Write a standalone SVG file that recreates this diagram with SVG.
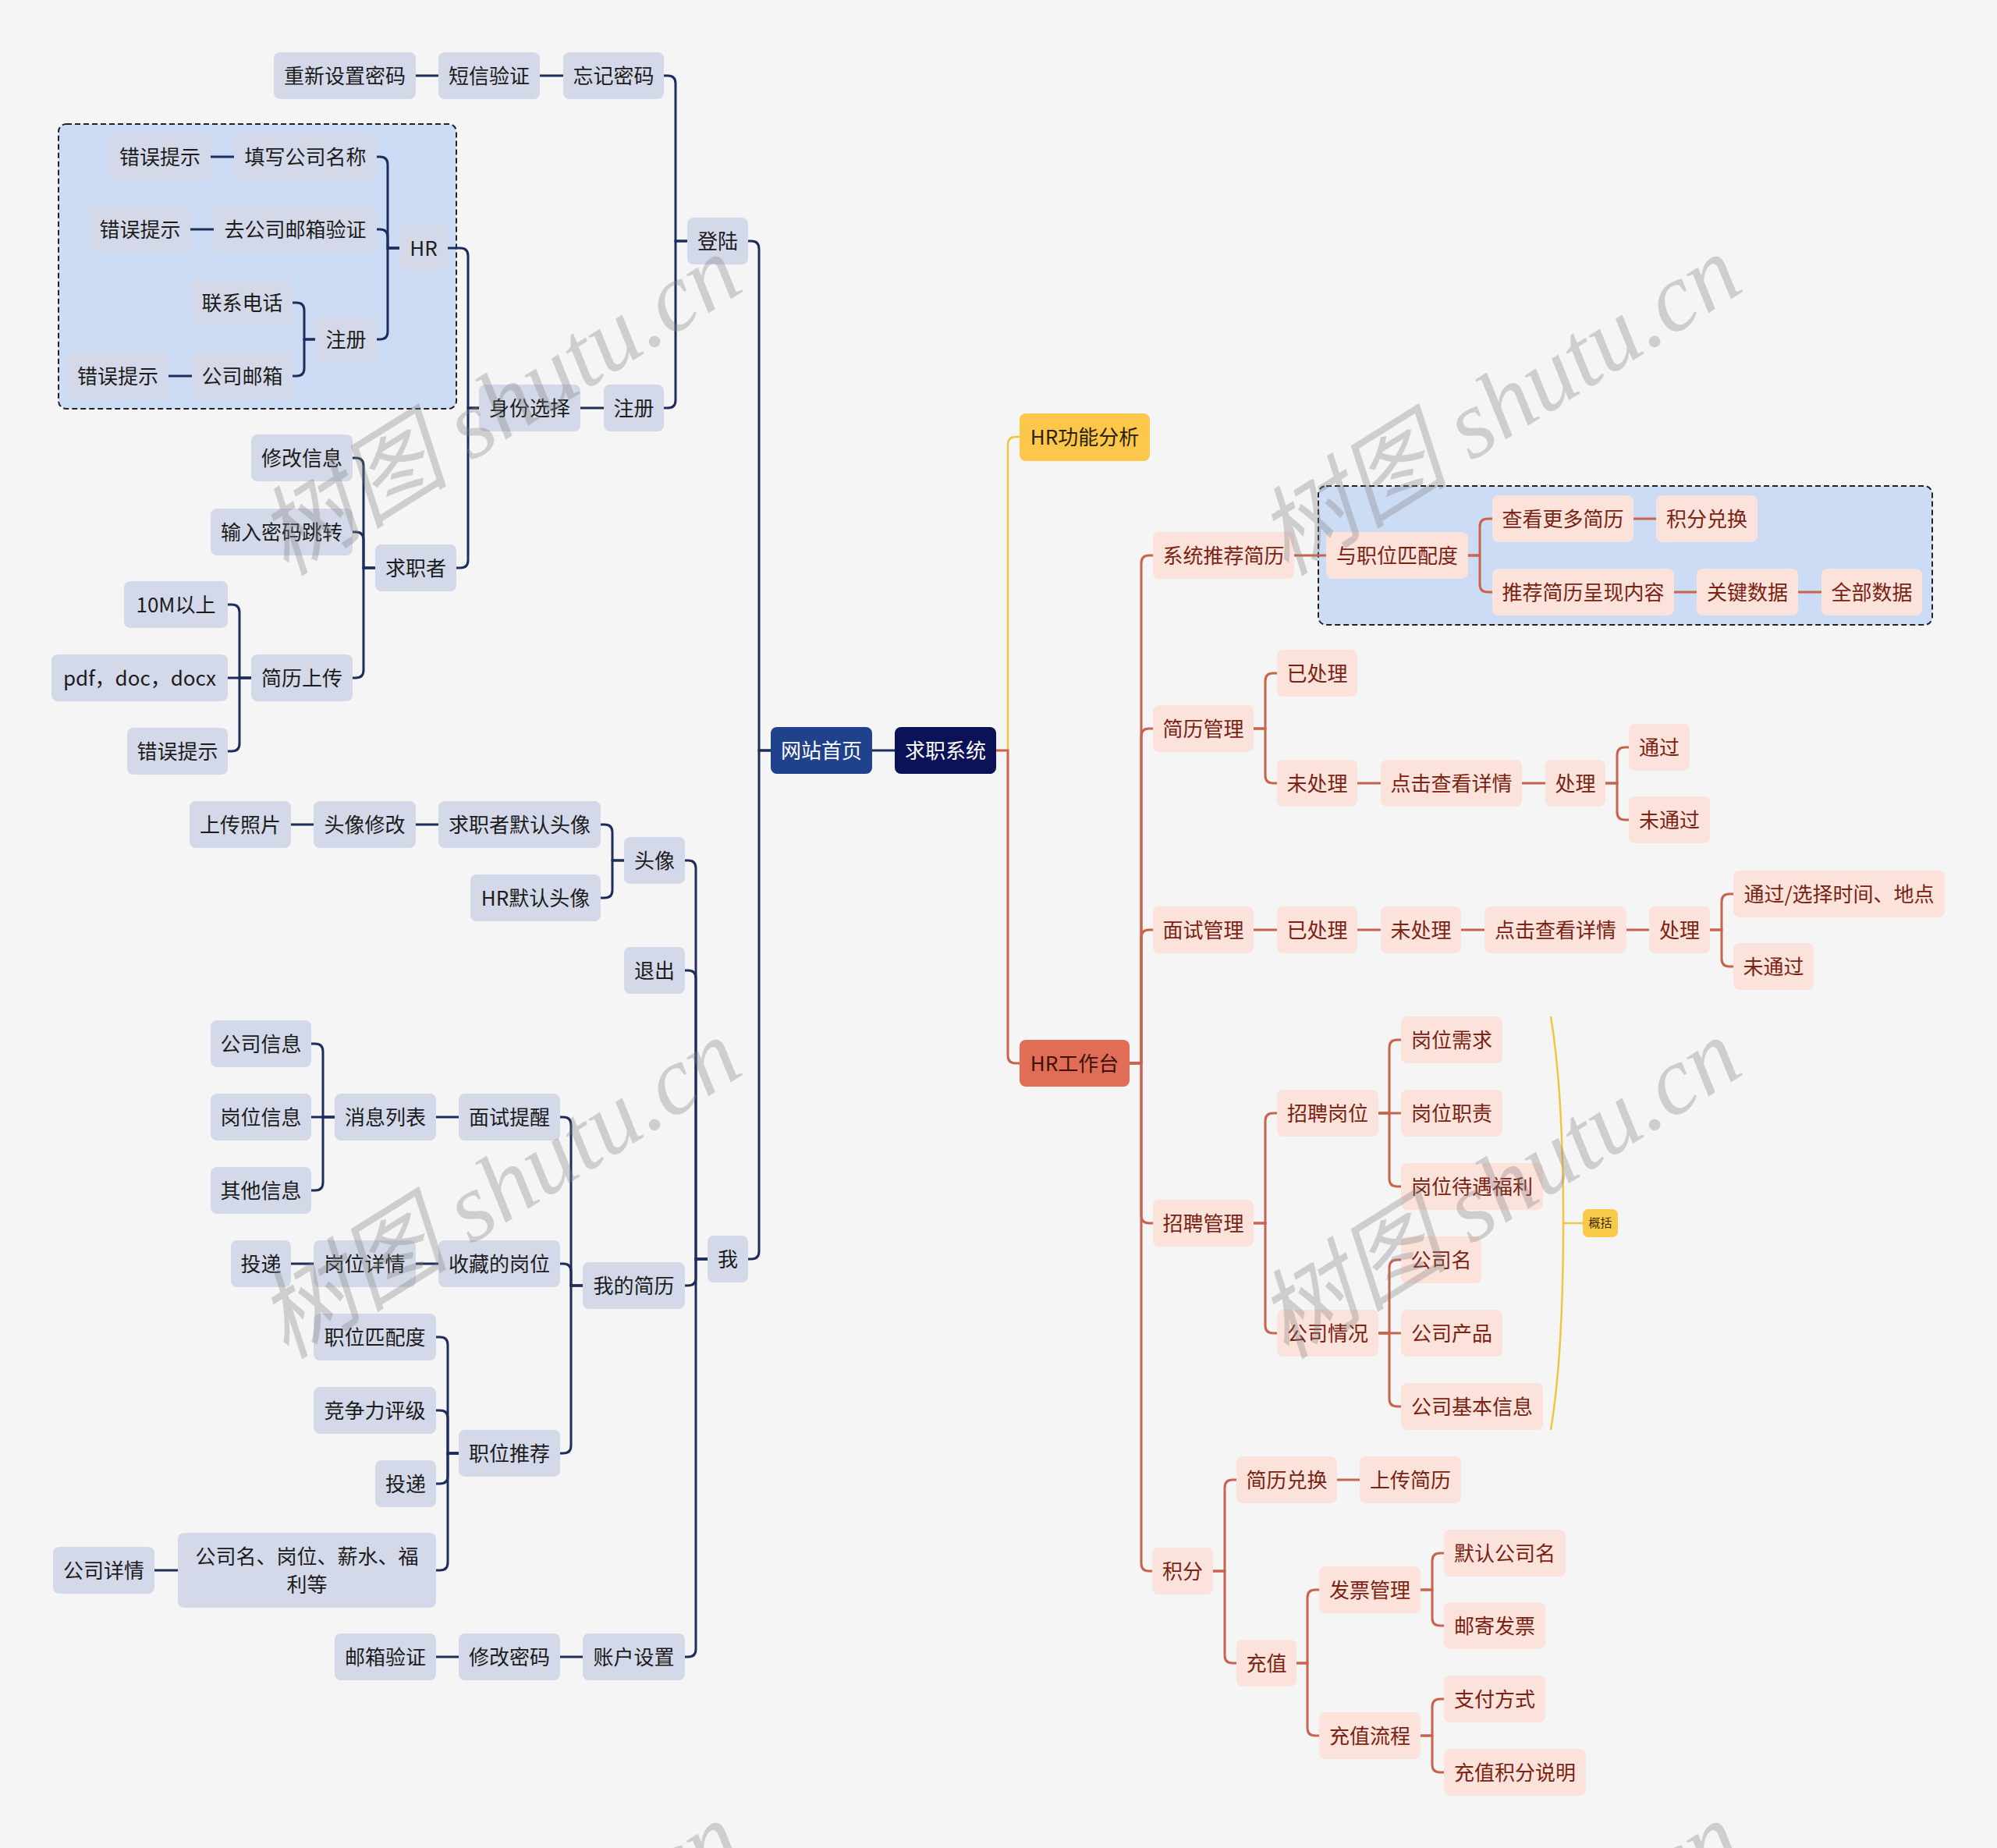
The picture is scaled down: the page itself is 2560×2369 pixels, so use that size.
<svg xmlns="http://www.w3.org/2000/svg" width="2560" height="2369" viewBox="0 0 2560 2369">
<style>
text{font-family:"Noto Sans CJK SC","Noto Sans",sans-serif;font-size:26px;text-anchor:middle;dominant-baseline:central}
g[id^="n_"] text{transform:translateY(-2px)}
.nb rect{fill:#d3d9e9}
.nb text{fill:#1c1c1c}
.np rect{fill:#fbe2da}
.np text{fill:#7a2313}
.cl path{fill:none;stroke:#1e2d5c;stroke-width:3}
.cr path{fill:none;stroke:#c9634e;stroke-width:3}
.cy path{fill:none;stroke:#f4c443;stroke-width:2.5}
.box{stroke:#222;stroke-width:2;stroke-dasharray:7 4}
.wm{font-family:"Liberation Serif","Noto Sans CJK SC",serif;font-style:italic;font-size:124px;fill:#808080;fill-opacity:.33}
</style>
<rect width="2560" height="2369" fill="#f5f5f5"/>
<rect class="box" x="75" y="159" width="510" height="365" rx="10" fill="#cddcf5"/>
<rect class="box" x="1690" y="623" width="787" height="178" rx="10" fill="#cddcf5"/>

<g id="connectors">
<g class="cl">
<path d="M988 962H973V319Q973 309 963 309H959"/>
<path d="M988 962H973V1604Q973 1614 963 1614H959"/>
<path d="M1147 962H1118"/>
<path d="M881 309H866V107Q866 97 856 97H851"/>
<path d="M881 309H866V513Q866 523 856 523H851"/>
<path d="M722 97H692M562 97H533"/>
<path d="M774 523H744"/>
<path d="M614 523H600V328Q600 318 590 318H574"/>
<path d="M614 523H600V718Q600 728 590 728H585"/>
<path d="M512 318H497V211Q497 201 487 201H483"/>
<path d="M512 318H497V304Q497 294 487 294H483"/>
<path d="M512 318H497V425Q497 435 487 435H483"/>
<path d="M300 201H270M274 294H244"/>
<path d="M404 435H390V398Q390 388 380 388H375"/>
<path d="M404 435H390V472Q390 482 380 482H375"/>
<path d="M246 482H216"/>
<path d="M481 728H466V597Q466 587 456 587H452"/>
<path d="M481 728H466V692Q466 682 456 682H452"/>
<path d="M481 728H466V859Q466 869 456 869H452"/>
<path d="M322 869H307V785Q307 775 297 775H292"/>
<path d="M322 869H292"/>
<path d="M322 869H307V953Q307 963 297 963H292"/>
<path d="M907 1614H892V1113Q892 1103 882 1103H878"/>
<path d="M907 1614H892V1254Q892 1244 882 1244H878"/>
<path d="M907 1614H892V1638Q892 1648 882 1648H878"/>
<path d="M907 1614H892V2114Q892 2124 882 2124H878"/>
<path d="M800 1103H785V1067Q785 1057 775 1057H770"/>
<path d="M800 1103H785V1141Q785 1151 775 1151H770"/>
<path d="M562 1057H533M402 1057H373"/>
<path d="M747 1648H732V1442Q732 1432 722 1432H718"/>
<path d="M747 1648H732V1630Q732 1620 722 1620H718"/>
<path d="M747 1648H732V1853Q732 1863 722 1863H718"/>
<path d="M588 1432H559"/>
<path d="M429 1432H414V1348Q414 1338 404 1338H399"/>
<path d="M429 1432H399"/>
<path d="M429 1432H414V1516Q414 1526 404 1526H399"/>
<path d="M562 1620H533M402 1620H373"/>
<path d="M588 1863H574V1724Q574 1714 564 1714H559"/>
<path d="M588 1863H574V1818Q574 1808 564 1808H559"/>
<path d="M588 1863H574V1892Q574 1902 564 1902H559"/>
<path d="M588 1863H574V2003Q574 2013 564 2013H559"/>
<path d="M228 2013H198"/>
<path d="M747 2124H718M588 2124H559"/>
</g>
<g class="cy">
<path d="M1277 962H1292V570Q1292 560 1302 560H1307"/>
<path d="M1988 1303Q2004 1400 2004 1568Q2004 1736 1988 1833M2004 1568H2029"/>
</g>
<g class="cr">
<path d="M1277 962H1292V1353Q1292 1363 1302 1363H1307"/>
<path d="M1448 1363H1463V722Q1463 712 1473 712H1478"/>
<path d="M1448 1363H1463V944Q1463 934 1473 934H1478"/>
<path d="M1448 1363H1463V1202Q1463 1192 1473 1192H1478"/>
<path d="M1448 1363H1463V1558Q1463 1568 1473 1568H1478"/>
<path d="M1448 1363H1463V2004Q1463 2014 1473 2014H1477"/>
<path d="M1659 712H1700"/>
<path d="M1882 712H1897V675Q1897 665 1907 665H1913"/>
<path d="M1882 712H1897V749Q1897 759 1907 759H1913"/>
<path d="M2094 665H2123"/>
<path d="M2146 759H2175M2305 759H2335"/>
<path d="M1607 934H1622V873Q1622 863 1632 863H1637"/>
<path d="M1607 934H1622V994Q1622 1004 1632 1004H1637"/>
<path d="M1740 1004H1770M1951 1004H1981"/>
<path d="M2058 1004H2073V968Q2073 958 2083 958H2088"/>
<path d="M2058 1004H2073V1041Q2073 1051 2083 1051H2088"/>
<path d="M1607 1192H1637M1740 1192H1770M1873 1192H1903M2085 1192H2114"/>
<path d="M2192 1192H2207V1156Q2207 1146 2217 1146H2222"/>
<path d="M2192 1192H2207V1229Q2207 1239 2217 1239H2222"/>
<path d="M1607 1568H1622V1437Q1622 1427 1632 1427H1637"/>
<path d="M1607 1568H1622V1699Q1622 1709 1632 1709H1637"/>
<path d="M1767 1427H1781V1343Q1781 1333 1791 1333H1796"/>
<path d="M1767 1427H1796"/>
<path d="M1767 1427H1781V1511Q1781 1521 1791 1521H1796"/>
<path d="M1767 1709H1781V1625Q1781 1615 1791 1615H1796"/>
<path d="M1767 1709H1796"/>
<path d="M1767 1709H1781V1793Q1781 1803 1791 1803H1796"/>
<path d="M1555 2014H1570V1907Q1570 1897 1580 1897H1585"/>
<path d="M1555 2014H1570V2122Q1570 2132 1580 2132H1585"/>
<path d="M1714 1897H1743"/>
<path d="M1662 2132H1676V2048Q1676 2038 1686 2038H1691"/>
<path d="M1662 2132H1676V2215Q1676 2225 1686 2225H1691"/>
<path d="M1821 2038H1836V2001Q1836 1991 1846 1991H1851"/>
<path d="M1821 2038H1836V2074Q1836 2084 1846 2084H1851"/>
<path d="M1821 2225H1836V2188Q1836 2178 1846 2178H1851"/>
<path d="M1821 2225H1836V2262Q1836 2272 1846 2272H1851"/>
</g>
</g>

<g id="n_home"><rect x="988" y="932" width="130" height="60" rx="8" fill="#20418b"/><text x="1053" y="962" fill="#ffffff">网站首页</text></g>
<g id="n_sys"><rect x="1147" y="932" width="130" height="60" rx="8" fill="#0c1257"/><text x="1212" y="962" fill="#ffffff">求职系统</text></g>

<g class="nb">
<g id="n_reset"><rect x="351" y="67" width="182" height="60" rx="8"/><text x="442" y="97">重新设置密码</text></g>
<g id="n_sms"><rect x="562" y="67" width="130" height="60" rx="8"/><text x="627" y="97">短信验证</text></g>
<g id="n_forgot"><rect x="722" y="67" width="129" height="60" rx="8"/><text x="786.5" y="97">忘记密码</text></g>
<g id="n_login"><rect x="881" y="279" width="78" height="60" rx="8"/><text x="920" y="309">登陆</text></g>
<g id="n_err1"><rect x="140" y="171" width="130" height="60" rx="8"/><text x="205" y="201">错误提示</text></g>
<g id="n_fillname"><rect x="300" y="171" width="183" height="60" rx="8"/><text x="391.5" y="201">填写公司名称</text></g>
<g id="n_err2"><rect x="115" y="264" width="129" height="60" rx="8"/><text x="179.5" y="294">错误提示</text></g>
<g id="n_mailverify"><rect x="274" y="264" width="209" height="60" rx="8"/><text x="378.5" y="294">去公司邮箱验证</text></g>
<g id="n_hr"><rect x="512" y="288" width="62" height="60" rx="8"/><text x="543" y="318">HR</text></g>
<g id="n_phone"><rect x="246" y="358" width="129" height="60" rx="8"/><text x="310.5" y="388">联系电话</text></g>
<g id="n_hrreg"><rect x="404" y="405" width="79" height="60" rx="8"/><text x="443.5" y="435">注册</text></g>
<g id="n_err3"><rect x="86" y="452" width="130" height="60" rx="8"/><text x="151" y="482">错误提示</text></g>
<g id="n_mail"><rect x="246" y="452" width="129" height="60" rx="8"/><text x="310.5" y="482">公司邮箱</text></g>
<g id="n_identity"><rect x="614" y="493" width="130" height="60" rx="8"/><text x="679" y="523">身份选择</text></g>
<g id="n_reg"><rect x="774" y="493" width="77" height="60" rx="8"/><text x="812.5" y="523">注册</text></g>
<g id="n_modinfo"><rect x="322" y="557" width="130" height="60" rx="8"/><text x="387" y="587">修改信息</text></g>
<g id="n_pwdjump"><rect x="270" y="652" width="182" height="60" rx="8"/><text x="361" y="682">输入密码跳转</text></g>
<g id="n_seeker"><rect x="481" y="698" width="104" height="60" rx="8"/><text x="533" y="728">求职者</text></g>
<g id="n_10m"><rect x="159" y="745" width="133" height="60" rx="8"/><text x="225.5" y="775">10M以上</text></g>
<g id="n_fmt"><rect x="66" y="839" width="226" height="60" rx="8"/><text x="179" y="869">pdf，doc，docx</text></g>
<g id="n_upload"><rect x="322" y="839" width="130" height="60" rx="8"/><text x="387" y="869">简历上传</text></g>
<g id="n_err4"><rect x="163" y="933" width="129" height="60" rx="8"/><text x="227.5" y="963">错误提示</text></g>
<g id="n_photo"><rect x="243" y="1027" width="130" height="60" rx="8"/><text x="308" y="1057">上传照片</text></g>
<g id="n_avmod"><rect x="402" y="1027" width="131" height="60" rx="8"/><text x="467.5" y="1057">头像修改</text></g>
<g id="n_defav"><rect x="562" y="1027" width="208" height="60" rx="8"/><text x="666" y="1057">求职者默认头像</text></g>
<g id="n_avatar"><rect x="800" y="1073" width="78" height="60" rx="8"/><text x="839" y="1103">头像</text></g>
<g id="n_hrav"><rect x="603" y="1121" width="167" height="60" rx="8"/><text x="686.5" y="1151">HR默认头像</text></g>
<g id="n_exit"><rect x="800" y="1214" width="78" height="60" rx="8"/><text x="839" y="1244">退出</text></g>
<g id="n_cinfo"><rect x="270" y="1308" width="129" height="60" rx="8"/><text x="334.5" y="1338">公司信息</text></g>
<g id="n_jinfo"><rect x="270" y="1402" width="129" height="60" rx="8"/><text x="334.5" y="1432">岗位信息</text></g>
<g id="n_msgs"><rect x="429" y="1402" width="130" height="60" rx="8"/><text x="494" y="1432">消息列表</text></g>
<g id="n_remind"><rect x="588" y="1402" width="130" height="60" rx="8"/><text x="653" y="1432">面试提醒</text></g>
<g id="n_oinfo"><rect x="270" y="1496" width="129" height="60" rx="8"/><text x="334.5" y="1526">其他信息</text></g>
<g id="n_deliver1"><rect x="296" y="1590" width="77" height="60" rx="8"/><text x="334.5" y="1620">投递</text></g>
<g id="n_jdetail"><rect x="402" y="1590" width="131" height="60" rx="8"/><text x="467.5" y="1620">岗位详情</text></g>
<g id="n_fav"><rect x="562" y="1590" width="156" height="60" rx="8"/><text x="640" y="1620">收藏的岗位</text></g>
<g id="n_me"><rect x="907" y="1584" width="52" height="60" rx="8"/><text x="933" y="1614">我</text></g>
<g id="n_myresume"><rect x="747" y="1618" width="131" height="60" rx="8"/><text x="812.5" y="1648">我的简历</text></g>
<g id="n_match"><rect x="402" y="1684" width="157" height="60" rx="8"/><text x="480.5" y="1714">职位匹配度</text></g>
<g id="n_compete"><rect x="402" y="1778" width="157" height="60" rx="8"/><text x="480.5" y="1808">竞争力评级</text></g>
<g id="n_recommend"><rect x="588" y="1833" width="130" height="60" rx="8"/><text x="653" y="1863">职位推荐</text></g>
<g id="n_deliver2"><rect x="481" y="1872" width="78" height="60" rx="8"/><text x="520" y="1902">投递</text></g>
<g id="n_clist"><rect x="228" y="1965" width="331" height="96" rx="8"/><text x="393.5" y="1995">公司名、岗位、薪水、福</text><text x="393.5" y="2031">利等</text></g>
<g id="n_cdetail"><rect x="68" y="1983" width="130" height="60" rx="8"/><text x="133" y="2013">公司详情</text></g>
<g id="n_emailv"><rect x="429" y="2094" width="130" height="60" rx="8"/><text x="494" y="2124">邮箱验证</text></g>
<g id="n_chpwd"><rect x="588" y="2094" width="130" height="60" rx="8"/><text x="653" y="2124">修改密码</text></g>
<g id="n_account"><rect x="747" y="2094" width="131" height="60" rx="8"/><text x="812.5" y="2124">账户设置</text></g>
</g>

<g id="n_hrfa"><rect x="1307" y="530" width="167" height="61" rx="8" fill="#fcc74a"/><text x="1390.5" y="560.5" fill="#2d2200">HR功能分析</text></g>
<g id="n_hrws"><rect x="1307" y="1333" width="141" height="60" rx="8" fill="#e26d57"/><text x="1377.5" y="1363" fill="#3b120a">HR工作台</text></g>

<g class="np">
<g id="n_sysrec"><rect x="1478" y="682" width="181" height="60" rx="8"/><text x="1568.5" y="712">系统推荐简历</text></g>
<g id="n_posmatch"><rect x="1700" y="682" width="182" height="60" rx="8"/><text x="1791" y="712">与职位匹配度</text></g>
<g id="n_more"><rect x="1913" y="635" width="181" height="60" rx="8"/><text x="2003.5" y="665">查看更多简历</text></g>
<g id="n_pex"><rect x="2123" y="635" width="130" height="60" rx="8"/><text x="2188" y="665">积分兑换</text></g>
<g id="n_content"><rect x="1913" y="729" width="233" height="60" rx="8"/><text x="2029.5" y="759">推荐简历呈现内容</text></g>
<g id="n_key"><rect x="2175" y="729" width="130" height="60" rx="8"/><text x="2240" y="759">关键数据</text></g>
<g id="n_all"><rect x="2335" y="729" width="129" height="60" rx="8"/><text x="2399.5" y="759">全部数据</text></g>
<g id="n_rm"><rect x="1478" y="904" width="129" height="60" rx="8"/><text x="1542.5" y="934">简历管理</text></g>
<g id="n_rm_done"><rect x="1637" y="833" width="103" height="60" rx="8"/><text x="1688.5" y="863">已处理</text></g>
<g id="n_rm_todo"><rect x="1637" y="974" width="103" height="60" rx="8"/><text x="1688.5" y="1004">未处理</text></g>
<g id="n_rm_click"><rect x="1770" y="974" width="181" height="60" rx="8"/><text x="1860.5" y="1004">点击查看详情</text></g>
<g id="n_rm_proc"><rect x="1981" y="974" width="77" height="60" rx="8"/><text x="2019.5" y="1004">处理</text></g>
<g id="n_rm_pass"><rect x="2088" y="928" width="78" height="60" rx="8"/><text x="2127" y="958">通过</text></g>
<g id="n_rm_fail"><rect x="2088" y="1021" width="104" height="60" rx="8"/><text x="2140" y="1051">未通过</text></g>
<g id="n_im"><rect x="1478" y="1162" width="129" height="60" rx="8"/><text x="1542.5" y="1192">面试管理</text></g>
<g id="n_im_done"><rect x="1637" y="1162" width="103" height="60" rx="8"/><text x="1688.5" y="1192">已处理</text></g>
<g id="n_im_todo"><rect x="1770" y="1162" width="103" height="60" rx="8"/><text x="1821.5" y="1192">未处理</text></g>
<g id="n_im_click"><rect x="1903" y="1162" width="182" height="60" rx="8"/><text x="1994" y="1192">点击查看详情</text></g>
<g id="n_im_proc"><rect x="2114" y="1162" width="78" height="60" rx="8"/><text x="2153" y="1192">处理</text></g>
<g id="n_im_pass"><rect x="2222" y="1116" width="271" height="60" rx="8"/><text x="2357.5" y="1146">通过/选择时间、地点</text></g>
<g id="n_im_fail"><rect x="2222" y="1209" width="103" height="60" rx="8"/><text x="2273.5" y="1239">未通过</text></g>
<g id="n_recruit"><rect x="1478" y="1538" width="129" height="60" rx="8"/><text x="1542.5" y="1568">招聘管理</text></g>
<g id="n_rpos"><rect x="1637" y="1397" width="130" height="60" rx="8"/><text x="1702" y="1427">招聘岗位</text></g>
<g id="n_req"><rect x="1796" y="1303" width="130" height="60" rx="8"/><text x="1861" y="1333">岗位需求</text></g>
<g id="n_duty"><rect x="1796" y="1397" width="130" height="60" rx="8"/><text x="1861" y="1427">岗位职责</text></g>
<g id="n_benefit"><rect x="1796" y="1491" width="182" height="60" rx="8"/><text x="1887" y="1521">岗位待遇福利</text></g>
<g id="n_comp"><rect x="1637" y="1679" width="130" height="60" rx="8"/><text x="1702" y="1709">公司情况</text></g>
<g id="n_cname"><rect x="1796" y="1585" width="103" height="60" rx="8"/><text x="1847.5" y="1615">公司名</text></g>
<g id="n_cprod"><rect x="1796" y="1679" width="130" height="60" rx="8"/><text x="1861" y="1709">公司产品</text></g>
<g id="n_cbasic"><rect x="1796" y="1773" width="182" height="60" rx="8"/><text x="1887" y="1803">公司基本信息</text></g>
<g id="n_points"><rect x="1477" y="1984" width="78" height="60" rx="8"/><text x="1516" y="2014">积分</text></g>
<g id="n_rex"><rect x="1585" y="1867" width="129" height="60" rx="8"/><text x="1649.5" y="1897">简历兑换</text></g>
<g id="n_uploadr"><rect x="1743" y="1867" width="130" height="60" rx="8"/><text x="1808" y="1897">上传简历</text></g>
<g id="n_recharge"><rect x="1585" y="2102" width="77" height="60" rx="8"/><text x="1623.5" y="2132">充值</text></g>
<g id="n_invoice"><rect x="1691" y="2008" width="130" height="60" rx="8"/><text x="1756" y="2038">发票管理</text></g>
<g id="n_defname"><rect x="1851" y="1961" width="156" height="60" rx="8"/><text x="1929" y="1991">默认公司名</text></g>
<g id="n_mailinv"><rect x="1851" y="2054" width="130" height="60" rx="8"/><text x="1916" y="2084">邮寄发票</text></g>
<g id="n_rflow"><rect x="1691" y="2195" width="130" height="60" rx="8"/><text x="1756" y="2225">充值流程</text></g>
<g id="n_pay"><rect x="1851" y="2148" width="130" height="60" rx="8"/><text x="1916" y="2178">支付方式</text></g>
<g id="n_rdesc"><rect x="1851" y="2242" width="182" height="60" rx="8"/><text x="1942" y="2272">充值积分说明</text></g>
</g>

<g id="n_summary"><rect x="2029" y="1550" width="45" height="36" rx="7" fill="#f9c94a"/><text x="2051.5" y="1568" fill="#3a2a00" style="font-size:15px">概括</text></g>

<g id="watermark">
<text class="wm" x="640" y="520" transform="rotate(-32 640 520)">树图 shutu.cn</text>
<text class="wm" x="1922" y="520" transform="rotate(-32 1922 520)">树图 shutu.cn</text>
<text class="wm" x="640" y="1524" transform="rotate(-32 640 1524)">树图 shutu.cn</text>
<text class="wm" x="1922" y="1524" transform="rotate(-32 1922 1524)">树图 shutu.cn</text>
<text class="wm" x="640" y="2528" transform="rotate(-32 640 2528)">树图 shutu.cn</text>
<text class="wm" x="1922" y="2528" transform="rotate(-32 1922 2528)">树图 shutu.cn</text>
</g>
</svg>
